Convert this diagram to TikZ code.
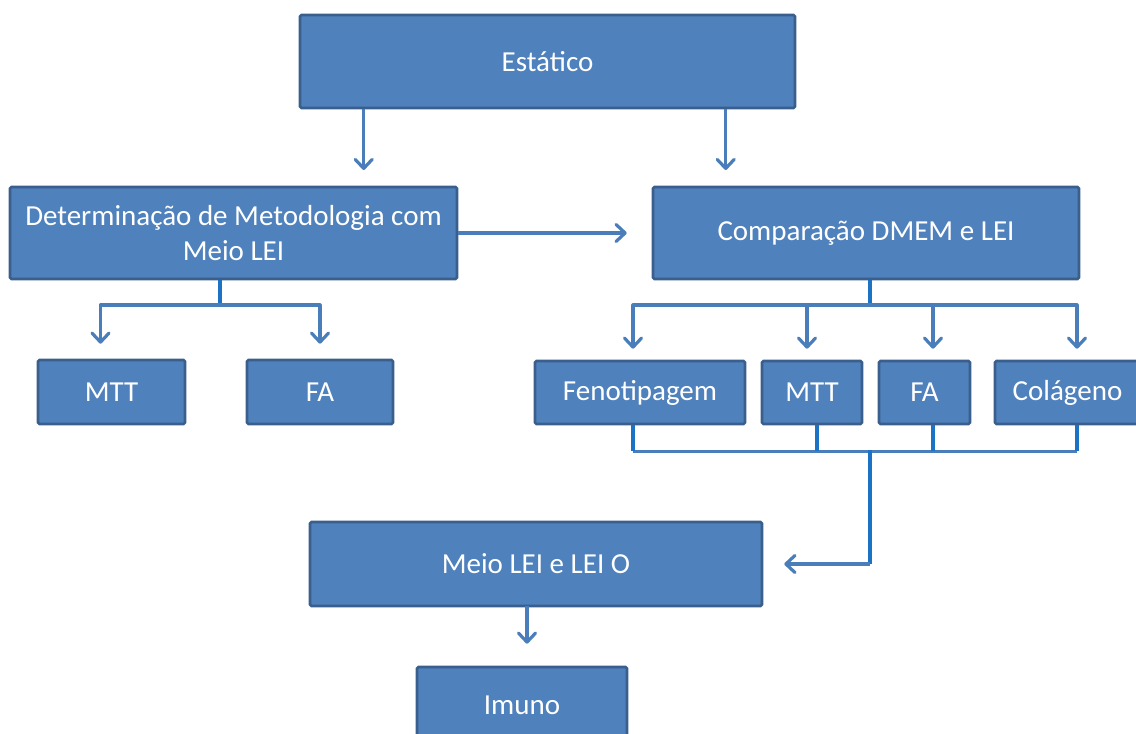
\documentclass[tikz,border=0pt]{standalone}
\usepackage{fontspec}
\setmainfont{Carlito}
\usetikzlibrary{arrows.meta,calc}
\definecolor{boxfill}{HTML}{4F81BD}
\definecolor{boxedge}{HTML}{3A5F8C}
\definecolor{linkblue}{HTML}{4A7EBB}
\definecolor{stubblue}{HTML}{1C73C6}
\tikzset{
  box/.style={draw=boxedge, fill=boxfill, line width=2.6pt, rounded corners=1.5pt,
    text=white, font=\fontsize{29}{35}\selectfont, align=center, inner sep=0pt},
  link/.style={draw=linkblue, line width=3.2pt, line join=round},
  stub/.style={draw=stubblue, line width=3.2pt},
  arr/.style={link, -{Straight Barb[length=9pt, width=17pt, line cap=round, line join=round]}},
}
\begin{document}
\begin{tikzpicture}[x=1pt, y=-1pt]
\useasboundingbox (0,0) rectangle (1136,734);
\begin{scope}
\clip (0,0) rectangle (1136,734);
% boxes
\node[box, minimum width=495pt, minimum height=93pt] (estatico) at (547.5,61.5) {Estático};
\node[box, minimum width=447pt, minimum height=92pt] (determ) at (233.5,233) {Determinação de Metodologia com\\Meio LEI};
\node[box, minimum width=426pt, minimum height=92pt] (compar) at (866,233) {Comparação DMEM e LEI};
\node[box, minimum width=147pt, minimum height=64pt] (mttA) at (111.5,392) {MTT};
\node[box, minimum width=146pt, minimum height=64pt] (faA) at (320,392) {FA};
\node[box, minimum width=210pt, minimum height=63pt] (feno) at (640,392.5) {Fenotipagem};
\node[box, minimum width=100pt, minimum height=63pt] (mttB) at (812,392.5) {MTT};
\node[box, minimum width=91pt, minimum height=63pt] (faB) at (924.5,392.5) {FA};
\node[box, minimum width=150pt, minimum height=63pt, text width=150pt] (colag) at (1070,392.5) {\hspace*{-5pt}Colágeno};
\node[box, minimum width=452pt, minimum height=84pt] (meio) at (536,564) {Meio LEI e LEI O};
\node[box, minimum width=210pt, minimum height=92pt, text depth=0pt] (imuno) at (522,713) {\raisebox{15pt}{Imuno}};
\end{scope}

% Estático splits into the two branches
\coordinate (eL) at ($(estatico.south west)+(65,0)$);
\coordinate (eR) at ($(estatico.south west)+(427,0)$);
\draw[arr] (eL) -- (eL |- 0,170);
\draw[arr] (eR) -- (eR |- 0,170);

% methodology feeds the comparison
\draw[arr] (determ.east) -- ($(compar.west)+(-25,0)$);

% methodology fans out to its two assays
\coordinate (dB) at (220,305);
\draw[stub] (determ.south -| dB) -- (dB);
\draw[arr] (dB) -| ($(mttA.north)+(-11,-15)$);
\draw[arr] (dB) -| ($(faA.north)+(0,-15)$);

% comparison fans out to four assays
\coordinate (cB) at (870,305);
\draw[stub] (compar.south -| cB) -- (cB);
\draw[arr] (cB) -| ($(feno.north)+(-7,-11)$);
\draw[arr] (cB) -| ($(mttB.north)+(-5,-11)$);
\draw[arr] (cB) -| ($(faB.north)+(8.5,-11)$);
\draw[arr] (cB) -| ($(colag.north)+(7,-11)$);

% assays gather back into one line
\coordinate (gF) at ($(feno.south)+(-7,26)$);
\coordinate (gC) at ($(colag.south)+(7,26)$);
\coordinate (gM) at (870,450);
\draw[link] (gF) -- (gC);
\draw[stub] ($(feno.south)+(-7,0)$) -- (gF);
\draw[stub] ($(mttB.south)+(5,0)$) -- ($(mttB.south)+(5,26)$);
\draw[stub] ($(faB.south)+(8.5,0)$) -- ($(faB.south)+(8.5,26)$);
\draw[stub] ($(colag.south)+(7,0)$) -- (gC);
\draw[stub] (gM) -- (gM |- meio.east);
\draw[arr] (gM |- meio.east) -- ($(meio.east)+(21,0)$);

% final step
\coordinate (mB) at (527,606);
\draw[arr] (mB) -- ($(mB |- imuno.north)+(0,-22)$);
\end{tikzpicture}
\end{document}
